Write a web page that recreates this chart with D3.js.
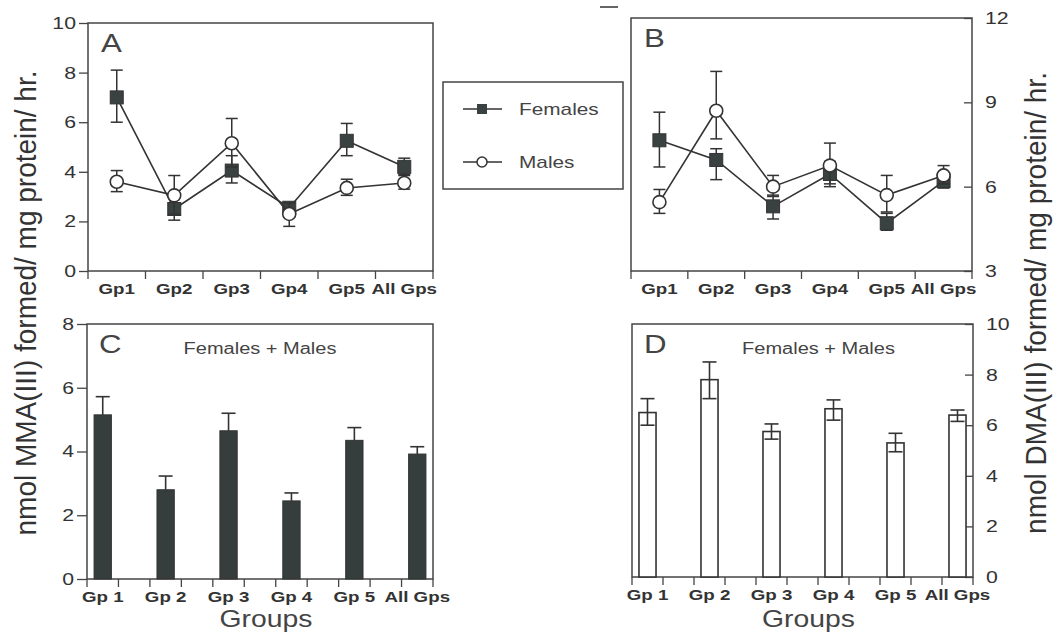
<!DOCTYPE html>
<html>
<head>
<meta charset="utf-8">
<script src="https://cdn.jsdelivr.net/npm/d3@7"></script>
<style>
  body { margin: 0; background: #fff; }
  svg { font-family: "Liberation Sans", Arial, sans-serif; }
  .frame { fill: none; stroke: #444; stroke-width: 1.5; }
  .axis path { display: none; }
  .axis line { stroke: #444; stroke-width: 1.3; }
  .axis text { fill: #333; font-size: 17px; }
  .cat text { font-size: 15px; font-weight: bold; fill: #333; }
</style>
</head>
<body>
<svg width="1053" height="635"></svg>
<script>
// categories
const lineGroups = ["Gp1", "Gp2", "Gp3", "Gp4", "Gp5", "All Gps"];
const barGroups = ["Gp 1", "Gp 2", "Gp 3", "Gp 4", "Gp 5", "All Gps"];

// panel A - MMA(III), by sex
const mmaFemale = [7.0, 2.5, 4.05, 2.55, 5.25, 4.2];
const mmaFemaleLo = [6.0, 2.05, 3.55, 2.35, 4.65, 3.9];
const mmaFemaleHi = [8.1, 2.95, 4.65, 2.75, 5.95, 4.55];
const mmaMale = [3.6, 3.05, 5.15, 2.3, 3.35, 3.55];
const mmaMaleLo = [3.2, 2.3, 4.2, 1.8, 3.05, 3.3];
const mmaMaleHi = [4.05, 3.85, 6.15, 2.75, 3.7, 3.85];

// panel B - DMA(III), by sex
const dmaFemale = [7.65, 6.95, 5.3, 6.45, 4.7, 6.2];
const dmaFemaleLo = [6.7, 6.25, 4.85, 6.0, 4.45, 5.95];
const dmaFemaleHi = [8.65, 7.35, 5.7, 6.9, 5.05, 6.4];
const dmaMale = [5.45, 8.7, 6.0, 6.75, 5.7, 6.4];
const dmaMaleLo = [5.05, 7.7, 5.65, 6.1, 5.1, 6.1];
const dmaMaleHi = [5.9, 10.1, 6.4, 7.55, 6.4, 6.75];

// panel C - MMA(III), females + males
const mmaAll = [5.15, 2.8, 4.65, 2.45, 4.35, 3.92];
const mmaAllHi = [5.72, 3.23, 5.2, 2.7, 4.75, 4.15];

// panel D - DMA(III), females + males
const dmaAll = [6.5, 7.8, 5.75, 6.65, 5.3, 6.4];
const dmaAllLo = [6.0, 7.05, 5.45, 6.2, 4.95, 6.15];
const dmaAllHi = [7.05, 8.5, 6.05, 7.0, 5.68, 6.6];

const ticksA = [0, 2, 4, 6, 8, 10];
const ticksB = [3, 6, 9, 12];
const ticksC = [0, 2, 4, 6, 8];
const ticksD = [0, 2, 4, 6, 8, 10];

const ink = "#333";
const S = 1.25; // the scan is stretched sideways, so is the type
const svg = d3.select("svg");

function label(txt, x, y, size, opts = {}) {
  return svg.append("text")
    .attr("transform", `translate(${x},${y}) scale(${opts.s || S},1)`)
    .attr("text-anchor", opts.anchor || "start")
    .attr("font-size", size).attr("fill", opts.fill || "#444")
    .text(txt);
}

function stretchTicks(g) {
  g.selectAll("text").each(function () {
    const t = d3.select(this);
    t.attr("x", (+t.attr("x") || 0) / S).attr("transform", `scale(${S},1)`);
  });
}

function frame(x0, x1, y0, y1) {
  svg.append("rect").attr("class", "frame")
    .attr("x", x0).attr("y", y0).attr("width", x1 - x0).attr("height", y1 - y0);
}

function yAxisFor(box, y, ticks, side, inTick) {
  const ax = side === "left"
    ? d3.axisLeft(y).tickValues(ticks).tickSize(inTick).tickPadding(3)
    : d3.axisRight(y).tickValues(ticks).tickSize(-8).tickPadding(13);
  svg.append("g").attr("class", "axis")
    .attr("transform", `translate(${side === "left" ? box.x0 : box.x1},0)`)
    .call(ax).call(stretchTicks);
}

function bottomTicks(box, edges) {
  svg.append("g").selectAll("line").data(edges).join("line")
    .attr("x1", d => d).attr("x2", d => d)
    .attr("y1", box.y1).attr("y2", box.y1 + 8)
    .attr("stroke", "#444").attr("stroke-width", 1.3);
}

// line panels (A and B)
function linePanel(box, domain, ticks, side, letter, series) {
  const x = d3.scaleBand().domain(lineGroups).range([box.x0, box.x1]);
  const y = d3.scaleLinear().domain(domain).range([box.y1, box.y0]);

  frame(box.x0, box.x1, box.y0, box.y1);
  yAxisFor(box, y, ticks, side, 9);
  bottomTicks(box, lineGroups.map(g => x(g)).concat([box.x1]));

  svg.append("g").attr("class", "axis cat")
    .attr("transform", `translate(0,${box.y1})`)
    .call(d3.axisBottom(x).tickSize(0).tickPadding(12))
    .call(stretchTicks);

  label(letter, box.x0 + 13, box.y0 + 29, 25);

  const cx = i => x(lineGroups[i]) + x.bandwidth() / 2;
  const line = d3.line().x((d, i) => cx(i)).y(d => y(d));

  series.forEach(s => {
    const g = svg.append("g");
    g.append("path").datum(s.val).attr("d", line)
      .attr("fill", "none").attr("stroke", ink).attr("stroke-width", 1.6);
    s.val.forEach((v, i) => {
      g.append("line").attr("x1", cx(i)).attr("x2", cx(i))
        .attr("y1", y(s.lo[i])).attr("y2", y(s.hi[i]))
        .attr("stroke", ink).attr("stroke-width", 1.5);
      [s.lo[i], s.hi[i]].forEach(e => {
        g.append("line").attr("x1", cx(i) - 6).attr("x2", cx(i) + 6)
          .attr("y1", y(e)).attr("y2", y(e))
          .attr("stroke", ink).attr("stroke-width", 1.5);
      });
    });
    s.val.forEach((v, i) => {
      if (s.shape === "square") {
        g.append("rect").attr("x", cx(i) - 6.5).attr("y", y(v) - 6.5)
          .attr("width", 13).attr("height", 13)
          .attr("fill", "#3a4141").attr("stroke", "#333").attr("stroke-width", 1);
      } else {
        g.append("circle").attr("cx", cx(i)).attr("cy", y(v)).attr("r", 6.5)
          .attr("fill", "#fff").attr("stroke", ink).attr("stroke-width", 1.6);
      }
    });
  });
}

// bar panels (C and D)
function barPanel(box, domain, ticks, side, letter, vals, lo, hi, filled, noteShift) {
  const x = d3.scaleBand().domain(barGroups).range([box.x0, box.x1])
    .paddingInner(0.5).paddingOuter(0);
  const y = d3.scaleLinear().domain(domain).range([box.y1, box.y0]);
  const slot = x.bandwidth();
  const mid = (box.x0 + box.x1) / 2;

  frame(box.x0, box.x1, box.y0, box.y1);
  yAxisFor(box, y, ticks, side, 10);
  bottomTicks(box, d3.range(12).map(k => box.x0 + k * slot));

  svg.append("g").attr("class", "axis cat")
    .attr("transform", `translate(0,${box.y1})`)
    .call(d3.axisBottom(x).tickSize(0).tickPadding(12))
    .call(stretchTicks);

  label(letter, box.x0 + 12, box.y0 + 29, 25);
  label("Females + Males", mid + noteShift, box.y0 + 30, 16, { anchor: "middle" });

  const bw = slot * 0.55;
  const cx = i => x(barGroups[i]) + slot / 2;
  vals.forEach((v, i) => {
    svg.append("rect").attr("x", cx(i) - bw / 2).attr("y", y(v))
      .attr("width", bw).attr("height", y(domain[0]) - y(v))
      .attr("fill", filled ? "#363d3d" : "#fff")
      .attr("stroke", ink).attr("stroke-width", filled ? 1 : 1.6);
    const bottom = lo ? lo[i] : v;
    svg.append("line").attr("x1", cx(i)).attr("x2", cx(i))
      .attr("y1", y(bottom)).attr("y2", y(hi[i]))
      .attr("stroke", ink).attr("stroke-width", 1.6);
    const caps = lo ? [lo[i], hi[i]] : [hi[i]];
    caps.forEach(e => {
      svg.append("line").attr("x1", cx(i) - 7).attr("x2", cx(i) + 7)
        .attr("y1", y(e)).attr("y2", y(e))
        .attr("stroke", ink).attr("stroke-width", 1.6);
    });
  });

  label("Groups", mid + 6, 627, 24, { anchor: "middle", s: 1.18 });
}

linePanel({ x0: 88, x1: 433, y0: 23, y1: 271 }, [0, 10], ticksA, "left", "A", [
  { val: mmaFemale, lo: mmaFemaleLo, hi: mmaFemaleHi, shape: "square" },
  { val: mmaMale, lo: mmaMaleLo, hi: mmaMaleHi, shape: "circle" }
]);

linePanel({ x0: 631, x1: 972, y0: 18, y1: 271 }, [3, 12], ticksB, "right", "B", [
  { val: dmaFemale, lo: dmaFemaleLo, hi: dmaFemaleHi, shape: "square" },
  { val: dmaMale, lo: dmaMaleLo, hi: dmaMaleHi, shape: "circle" }
]);

barPanel({ x0: 87, x1: 433, y0: 324, y1: 579 }, [0, 8], ticksC, "left", "C",
  mmaAll, null, mmaAllHi, true, 0);

barPanel({ x0: 632, x1: 973, y0: 324, y1: 577 }, [0, 10], ticksD, "right", "D",
  dmaAll, dmaAllLo, dmaAllHi, false, 16);

// legend
const legend = svg.append("g");
legend.append("rect").attr("x", 443).attr("y", 82).attr("width", 180).attr("height", 107)
  .attr("fill", "#fff").attr("stroke", "#444").attr("stroke-width", 1.5);
[["Females", 109, "square"], ["Males", 162, "circle"]].forEach(([name, ly, shape]) => {
  legend.append("line").attr("x1", 463).attr("x2", 502).attr("y1", ly).attr("y2", ly)
    .attr("stroke", ink).attr("stroke-width", 1.6);
  if (shape === "square") {
    legend.append("rect").attr("x", 477).attr("y", ly - 5).attr("width", 10).attr("height", 10)
      .attr("fill", "#3a4141");
  } else {
    legend.append("circle").attr("cx", 482).attr("cy", ly).attr("r", 5)
      .attr("fill", "#fff").attr("stroke", ink).attr("stroke-width", 1.5);
  }
  label(name, 519, ly + 6, 16, { s: 1.3 });
});

// y titles
svg.append("text").attr("transform", "translate(36,303) scale(1.05,1) rotate(-90)")
  .attr("text-anchor", "middle").attr("font-size", 28).attr("fill", "#333")
  .text("nmol MMA(III) formed/ mg protein/ hr.");
svg.append("text").attr("transform", "translate(1046,303) scale(1.05,1) rotate(-90)")
  .attr("text-anchor", "middle").attr("font-size", 28).attr("fill", "#333")
  .text("nmol DMA(III) formed/ mg protein/ hr.");

// stray mark at top of the scan
svg.append("line").attr("x1", 600).attr("x2", 618).attr("y1", 7).attr("y2", 7)
  .attr("stroke", "#333").attr("stroke-width", 1.5);
</script>
</body>
</html>
